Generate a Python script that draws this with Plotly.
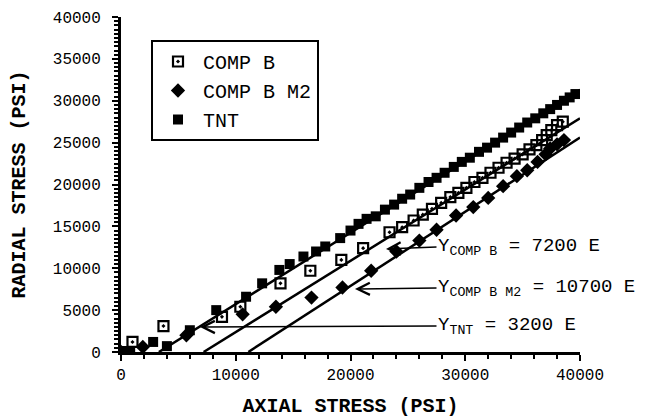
import plotly.graph_objects as go

# ---- data ----
tnt_x = [0, 800, 2800, 4000, 6000, 8300, 10900, 12300, 13800, 14700, 15900, 17000, 17800,
         19100, 20000, 20700, 21400, 22200, 23000, 23800, 24500, 25200, 26000, 26800, 27500,
         28200, 29000, 29700, 30400, 31200, 31900, 32600, 33300, 34000, 34700, 35400, 36100,
         36800, 37400, 38000, 38600, 39100, 39600]
tnt_y = [0, 100, 1200, 700, 2600, 5000, 6600, 8200, 9800, 10500, 11400, 12000, 12600,
         13600, 14500, 15300, 15900, 16200, 17000, 17600, 18300, 18800, 19600, 20300, 20800,
         21400, 22100, 22700, 23200, 23900, 24400, 25000, 25600, 26200, 26800, 27400, 27900,
         28500, 29000, 29500, 30000, 30400, 30800]

compb_x = [0, 1000, 3700, 8800, 10400, 13900, 16500, 19200, 21100, 23400, 24500, 25500,
           26300, 27100, 27900, 28700, 29400, 30100, 30800, 31500, 32200, 32900, 33600,
           34300, 35000, 35600, 36200, 36700, 37100, 37500, 38000, 38500]
compb_y = [0, 1200, 3100, 4200, 5400, 8200, 9700, 11000, 12400, 14300, 14900, 15700,
           16400, 17100, 17800, 18500, 19000, 19600, 20300, 20800, 21400, 22000, 22600,
           23100, 23600, 24200, 24700, 25300, 25900, 26500, 27100, 27500]

m2_x = [0, 1900, 5700, 10600, 13500, 16600, 19300, 21800, 24000, 26000, 27500, 29200,
        30700, 32000, 33300, 34500, 35400, 36300, 37000, 37400, 38000, 38600]
m2_y = [0, 600, 2000, 4500, 5400, 6500, 7700, 9700, 12000, 13300, 14600, 16300,
        17300, 18400, 19800, 21000, 21700, 22700, 23600, 24300, 24800, 25300]

# fitted lines (end points)
fit_tnt_x = [3300, 40000]
fit_tnt_y = [0, 31300]
fit_compb_x = [7200, 40000]
fit_compb_y = [0, 27900]
fit_m2_x = [11100, 40000]
fit_m2_y = [0, 25600]

x_ticks = [0, 10000, 20000, 30000, 40000]
x_tick_text = ["0", "10000", "20000", "30000", "40000"]
y_ticks = [0, 5000, 10000, 15000, 20000, 25000, 30000, 35000, 40000]
y_tick_text = ["0", "5000", "10000", "15000", "20000", "25000", "30000", "35000", "40000"]

MONO = "Liberation Mono, Courier New, monospace"

fig = go.Figure()
for fx, fy in [(fit_tnt_x, fit_tnt_y), (fit_compb_x, fit_compb_y), (fit_m2_x, fit_m2_y)]:
    fig.add_trace(go.Scatter(x=fx, y=fy, mode="lines", line=dict(color="black", width=2.5),
                             showlegend=False, hoverinfo="skip"))

fig.add_trace(go.Scatter(x=compb_x, y=compb_y, mode="markers", name="COMP B",
                         marker=dict(symbol="square-open-dot", size=10, color="black",
                                     line=dict(width=2.2, color="black"))))
fig.add_trace(go.Scatter(x=m2_x, y=m2_y, mode="markers", name="COMP B M2",
                         marker=dict(symbol="diamond", size=11, color="black")))
fig.add_trace(go.Scatter(x=tnt_x, y=tnt_y, mode="markers", name="TNT",
                         marker=dict(symbol="square", size=10, color="black")))

L, R, T, B = 121, 75, 17, 67
W, H = 655, 419
pw, ph = W - L - R, H - T - B

def px(xp):
    return (xp - L) / pw

def py(yp):
    return (H - B - yp) / ph

# annotations: text
texts = [("Y<sub>COMP B</sub> = 7200 E", 436, 247),
         ("Y<sub>COMP B M2</sub> = 10700 E", 436, 288),
         ("Y<sub>TNT</sub> = 3200 E", 436, 326)]
for t, xp, yp in texts:
    fig.add_annotation(x=px(xp), y=py(yp), xref="paper", yref="paper", text=t,
                       showarrow=False, xanchor="left", yanchor="middle",
                       font=dict(family=MONO, size=19, color="black"))

# arrows: (tip, tail)
arrows = [((386, 249), (438, 247)), ((355, 289), (438, 288)), ((200, 327), (438, 326))]
for (tx, ty), (sx, sy) in arrows:
    fig.add_annotation(x=px(tx), y=py(ty), xref="paper", yref="paper", text="",
                       showarrow=True, ax=sx - tx, ay=sy - ty, axref="pixel", ayref="pixel",
                       arrowhead=5, arrowsize=1.6, arrowwidth=1.5, arrowcolor="black",
                       standoff=0, startstandoff=0)

fig.update_layout(
    width=W, height=H,
    margin=dict(l=L, r=R, t=T, b=B),
    paper_bgcolor="white", plot_bgcolor="white",
    font=dict(family=MONO, color="black"),
    legend=dict(x=px(151), y=py(40), xanchor="left", yanchor="top",
                bordercolor="black", borderwidth=2, bgcolor="white",
                font=dict(family=MONO, size=20, color="black"),
                itemwidth=40, tracegroupgap=0),
    xaxis=dict(range=[0, 40000], tickmode="array", tickvals=x_ticks, ticktext=x_tick_text,
               showgrid=False, zeroline=False, automargin=False,
               showline=True, linecolor="black", linewidth=3,
               ticks="outside", ticklen=6, tickwidth=2, tickcolor="black",
               minor=dict(tickmode="linear", tick0=0, dtick=2000, ticks="outside",
                          ticklen=4, tickwidth=2, tickcolor="black"),
               tickfont=dict(family=MONO, size=16),
               title=dict(text="AXIAL STRESS (PSI)", standoff=14,
                          font=dict(family=MONO, size=20, weight="bold"))),
    yaxis=dict(range=[0, 40000], tickmode="array", tickvals=y_ticks, ticktext=y_tick_text,
               showgrid=False, zeroline=False, automargin=False,
               showline=True, linecolor="black", linewidth=3,
               ticks="outside", ticklen=6, tickwidth=2, tickcolor="black",
               ticklabelstandoff=8,
               minor=dict(tickmode="linear", tick0=0, dtick=500, ticks="outside",
                          ticklen=4, tickwidth=2, tickcolor="black"),
               tickfont=dict(family=MONO, size=16),
               title=dict(text="RADIAL STRESS (PSI)", standoff=22,
                          font=dict(family=MONO, size=20, weight="bold"))),
)

fig.write_html("out.html", config={"displayModeBar": False},
               post_script="document.body.style.margin='0';document.body.style.overflow='hidden';")
